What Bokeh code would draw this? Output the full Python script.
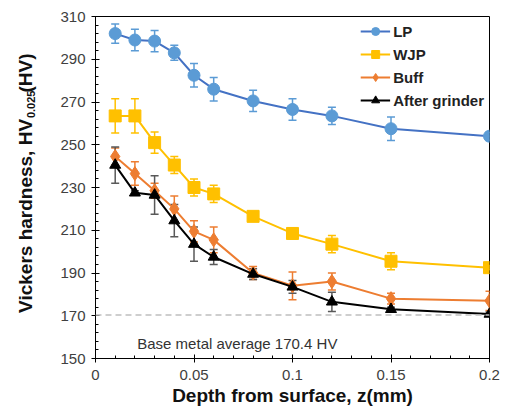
import math
from bokeh.plotting import figure
from bokeh.layouts import row
from bokeh.models import (Range1d, FixedTicker, CustomJSTickFormatter, Whisker, TeeHead,
                          ColumnDataSource, Span, Label, Legend, Title)
from bokeh.core.properties import value
from bokeh.embed import file_html
from bokeh.resources import INLINE

depth = [0.01, 0.02, 0.03, 0.04, 0.05, 0.06, 0.08, 0.1, 0.12, 0.15, 0.2]
lp = [302, 299, 298.5, 293, 282.5, 276, 270.5, 266.5, 263.5, 257.5, 254]
lp_err = [4.5, 5, 5, 3.5, 5.5, 5.5, 5, 5, 4, 5.5, 2]
wjp = [263.5, 263.5, 251, 240.5, 230, 227, 216.5, 208.5, 203.5, 195.5, 192.5]
wjp_err = [8, 8, 5, 4, 4, 4, 2, 2.5, 4, 4, 1]
buff = [244.5, 236.5, 228.5, 220, 209.5, 205.5, 190, 184, 186, 178, 177]
buff_err = [4, 5.5, 3.5, 6, 5, 6, 3, 6.5, 4, 2.5, 4.5]
grinder = [240.5, 227.5, 226.5, 214.5, 203.5, 197.5, 189.5, 183.5, 176.5, 173, 170.8]
grinder_err = [8.5, 1, 9, 7.5, 8, 3.5, 2.5, 3, 4.5, 1, 1]
base_metal = 170.4

x_ticks = [0, 0.05, 0.1, 0.15, 0.2]
y_ticks = [150, 170, 190, 210, 230, 250, 270, 290, 310]

x_title = "Depth from surface, z(mm)"
y_title_parts = ["Vickers hardness, HV", "0.025", "(HV)"]
base_note = "Base metal average 170.4 HV"

FONT = "Liberation Sans"

# ---------- main chart ----------
p = figure(width=455, height=409, x_range=Range1d(0, 0.2), y_range=Range1d(150, 310),
           output_backend="svg", toolbar_location=None,
           min_border_left=45, min_border_right=16, min_border_top=16, min_border_bottom=51)
p.background_fill_color = "white"
p.border_fill_color = "white"
p.outline_line_color = "black"
p.outline_line_width = 1
p.xgrid.visible = False
p.ygrid.visible = False

p.xaxis.ticker = FixedTicker(ticks=x_ticks, minor_ticks=[i * 0.01 for i in range(21)])
p.yaxis.ticker = FixedTicker(ticks=y_ticks, minor_ticks=list(range(150, 311, 4)))
p.xaxis.formatter = CustomJSTickFormatter(code="return String(Math.round(tick*100)/100);")
for ax in (p.xaxis[0], p.yaxis[0]):
    ax.axis_line_color = "black"
    ax.major_tick_line_color = "black"
    ax.minor_tick_line_color = "black"
    ax.major_tick_in = 4
    ax.major_tick_out = 4
    ax.minor_tick_in = 3
    ax.minor_tick_out = 0
    ax.major_label_text_font = FONT
    ax.major_label_text_font_size = "15px"
    ax.major_label_text_color = "#404040"
p.xaxis.major_label_standoff = 7
p.yaxis.major_label_standoff = 6

p.add_layout(Title(text=x_title, align="center", offset=18, standoff=0,
                   text_font=FONT, text_font_style="bold", text_font_size="19px",
                   text_color="#111111"), "below")

p.add_layout(Span(location=base_metal, dimension="width", line_color="#BFBFBF",
                  line_dash="6 4", line_width=1.5))

series = [
    ("LP", lp, lp_err, "#4472C4", "#5B9BD5", "#5B9BD5", "circle", 12),
    ("WJP", wjp, wjp_err, "#FFC000", "#FFC000", "#FFC000", "square", 12),
    ("Buff", buff, buff_err, "#ED7D31", "#ED7D31", "#ED7D31", "diamond", 14),
    ("After grinder", grinder, grinder_err, "#000000", "#000000", "#595959", "triangle", 11),
]

items = []
for name, vals, err, lcol, mcol, ecol, marker, size in series:
    src = ColumnDataSource(dict(x=depth, y=vals,
                                upper=[v + e for v, e in zip(vals, err)],
                                lower=[v - e for v, e in zip(vals, err)]))
    w = Whisker(base="x", upper="upper", lower="lower", source=src,
                line_color=ecol, line_width=1.5,
                upper_head=TeeHead(size=8, line_color=ecol, line_width=1.5),
                lower_head=TeeHead(size=8, line_color=ecol, line_width=1.5))
    p.add_layout(w)
    r1 = p.line("x", "y", source=src, line_color=lcol, line_width=2)
    r2 = p.scatter("x", "y", source=src, marker=marker, size=size,
                   fill_color=mcol, line_color=mcol)
    items.append((name, [r1, r2]))

legend = Legend(items=items, location="top_right")
legend.label_text_font = FONT
legend.label_text_font_style = "bold"
legend.label_text_font_size = "15px"
legend.label_text_color = "#222222"
legend.glyph_width = 30
legend.glyph_height = 20
legend.label_height = 20
legend.spacing = 3
legend.padding = 3
legend.margin = 2
legend.label_standoff = 3
legend.border_line_alpha = 0
legend.background_fill_alpha = 0
p.add_layout(legend)

p.add_layout(Label(x=0.0212, y=156.8, text=base_note,
                   text_font=FONT, text_font_size="15px", text_color="#333333",
                   text_align="left", text_baseline="alphabetic"))

# ---------- y-axis title panel (pixel coordinates, y down) ----------
ylab = figure(width=50, height=409, x_range=Range1d(0, 50), y_range=Range1d(409, 0),
              output_backend="svg", toolbar_location=None, min_border=0,
              x_axis_type=None, y_axis_type=None)
ylab.outline_line_color = None
ylab.xgrid.visible = False
ylab.ygrid.visible = False
common = dict(angle=math.pi / 2, text_font=value(FONT), text_font_style="bold",
              text_color="#111111", text_baseline="middle")
# main part anchored at its end, subscript and unit anchored at their start
ylab.text(x=[25], y=[122.5], text=[y_title_parts[0]], text_font_size="19px",
          text_align="right", **common)
ylab.text(x=[30], y=[121.5], text=[y_title_parts[1]], text_font_size="11px",
          text_align="left", **common)
ylab.text(x=[25], y=[91], text=[y_title_parts[2]], text_font_size="19px",
          text_align="left", **common)

layout = row(ylab, p, spacing=0)
open("out.html", "w").write(file_html(layout, INLINE))
